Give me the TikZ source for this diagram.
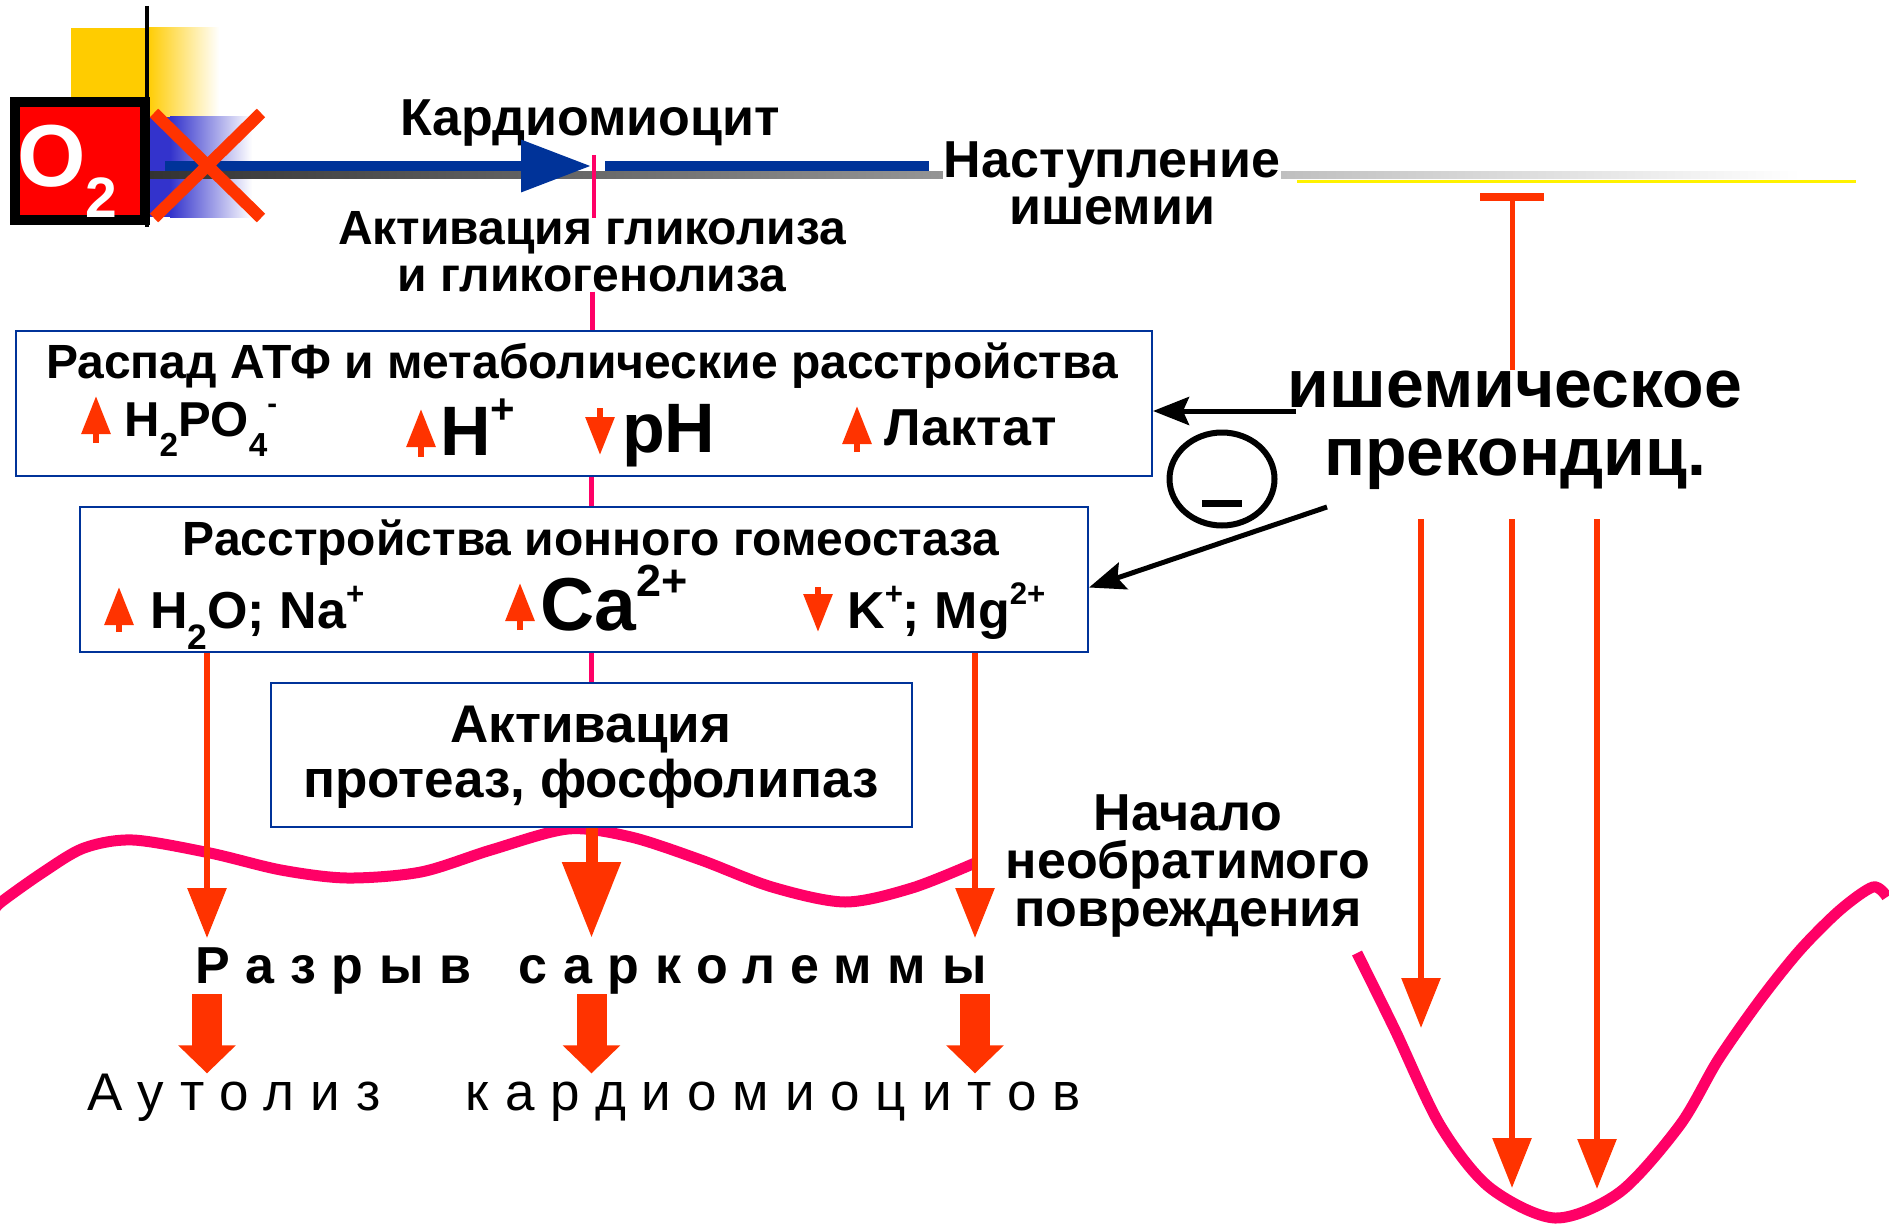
\documentclass[tikz,border=0pt]{standalone}
\usepackage{fontspec}
\setmainfont{Liberation Sans}
\newfontfamily\spaced[LetterSpace=30]{Liberation Sans}
\usetikzlibrary{arrows.meta, positioning, shapes.geometric}
\definecolor{rust}{HTML}{FF3300}
\definecolor{rose}{HTML}{FF0066}
\definecolor{navy}{HTML}{003399}
\definecolor{gold}{HTML}{FFCC00}
\definecolor{indigo}{HTML}{3333CC}
\newcommand{\fsz}[1]{\fontsize{#1}{#1}\selectfont}
\newcommand{\hi}[1]{\raisebox{0.45em}{\fontsize{0.6em}{0.6em}\selectfont #1}}
\newcommand{\lo}[1]{\raisebox{-0.42em}{\fontsize{0.68em}{0.68em}\selectfont #1}}
\tikzstyle{every node}=[inner sep=0pt, font=\bfseries\fsz{52}]
\tikzstyle{block}=[draw=navy, line width=2pt, fill=white, rectangle]
\tikzstyle{link}=[draw=rose, line width=5pt]
\tikzstyle{hit}=[draw=rust, line width=6pt, -{Triangle[width=38pt,length=50pt]}]
\tikzstyle{bighit}=[draw=rust, line width=12pt, -{Triangle[width=56pt,length=76pt]}]
\tikzstyle{ion}=[draw=rust, line width=6pt, -{Triangle[width=28pt,length=38pt]}]
\tikzstyle{fat}=[draw=rust, line width=30pt, -{Triangle[width=56pt,length=28pt]}]
\tikzstyle{push}=[draw=black, line width=5pt, -{Stealth[width=28pt,length=36pt,inset=6pt]}]
\tikzstyle{membrane}=[draw=rose, line width=11pt]

\begin{document}
\begin{tikzpicture}[x=1pt, y=-1pt, node distance=47pt, >=latex]
    \useasboundingbox (0,0) rectangle (1889,1225);
    % corner squares
    \fill[gold] (71,28) rectangle (147,117);
    \shade[left color=gold, right color=white] (147,28) rectangle (219,117);
    \fill[indigo] (150,117) rectangle (170,217);
    \shade[left color=indigo, right color=white] (170,117) rectangle (252,217);
    \draw[line width=4pt] (147,6) -- (147,227);
    % time axis
    \shade[left color=black!80, right color=white] (150,172) rectangle (1800,179);
    \draw[yellow, line width=3pt] (1297,182) -- (1856,182);
    % sarcolemma
    \draw[membrane] plot[smooth] coordinates {(-6,912) (0,903) (42,873) (84,848) (133,840) (210,853) (281,870) (347,878) (421,872) (491,850) (568,829) (631,837) (701,860) (772,887) (845,902) (912,888) (975,863)};
    \draw[membrane] plot[smooth] coordinates {(1357,953) (1395,1030) (1440,1125) (1489,1187) (1555,1218) (1620,1192) (1680,1125) (1718,1060) (1760,1000) (1800,950) (1840,910) (1873,887) (1887,897)};

    \node[draw=black, line width=10pt, fill=red, minimum width=130pt, minimum height=118pt] (o2box) at (80,161) {};
    \node[anchor=base west, text=white, font=\bfseries\fsz{88}] (o2) at (17,187) {O\raisebox{-30pt}{\fsz{57}2}};
    \coordinate (cut) at (594,166);
    \node[anchor=base] (cardio) at (590,136) {Кардиомиоцит};
    \node[anchor=base, fill=white, inner sep=1pt] (onset) at (1112,178) {Наступление};
    \node[anchor=base] (onset2) at ([yshift=-46pt]onset.base) {ишемии};
    \node[anchor=base, font=\bfseries\fsz{48}] (glyc) at (592,244) {Активация гликолиза};
    \node[anchor=base, font=\bfseries\fsz{48}] (glyc2) at ([yshift=-47pt]glyc.base) {и гликогенолиза};

    \node[block, minimum width=1136pt, minimum height=145pt] (box1) at (584,403.5) {};
    \node[anchor=base, font=\bfseries\fsz{48}] (atp) at (582,378) {Распад АТФ и метаболические расстройства};
    \node[anchor=base west, font=\bfseries\fsz{49}] (phos) at (124,436) {H\lo{2}PO\lo{4}\hi{-}};
    \node[anchor=base west, font=\bfseries\fsz{70}] (hplus) at (440,455) {H\hi{+}};
    \node[anchor=base west, font=\bfseries\fsz{70}] (ph) at (622,452) {pH};
    \node[anchor=base west] (lactate) at (884,445) {Лактат};

    \node[block, minimum width=1008pt, minimum height=145pt] (box2) at (584,579.5) {};
    \node[anchor=base, font=\bfseries\fsz{48}] (ions) at (591,555) {Расстройства ионного гомеостаза};
    \node[anchor=base west] (water) at (150,628) {H\lo{2}O; Na\hi{+}};
    \node[anchor=base west, font=\bfseries\fsz{75}] (calcium) at (540,630) {Ca\hi{2+}};
    \node[anchor=base west] (potassium) at (847,628) {K\hi{+}; Mg\hi{2+}};

    \node[block, minimum width=641pt, minimum height=144pt] (box3) at (591.5,755) {};
    \node[anchor=base, font=\bfseries\fsz{53}] (enz) at (591,742) {Активация};
    \node[anchor=base, font=\bfseries\fsz{53}] (enz2) at ([yshift=-55pt]enz.base) {протеаз, фосфолипаз};

    \node[anchor=base, font=\spaced\bfseries\fsz{52}] (razryv) at (591,983) {Разрыв\hspace{17pt} сарколеммы};
    \node[anchor=base, font=\spaced\fsz{53}] (autoliz) at (584,1110) {Аутолиз\hspace{54pt} кардиомиоцитов};

    \node[anchor=base, font=\bfseries\fsz{68}] (isch) at (1515,407) {ишемическое};
    \node[anchor=base, font=\bfseries\fsz{68}] (precond) at ([yshift=-68pt]isch.base) {прекондиц.};
    \node[draw, ellipse, line width=6pt, minimum width=105pt, minimum height=93pt] (minus) at (1222,479) {};
    \fill ([xshift=-20pt,yshift=-21pt]minus.center) rectangle ++(40,7);

    \node[anchor=base] (death) at (1188,830) {Начало};
    \node[anchor=base] (death2) at ([yshift=-48pt]death.base) {необратимого};
    \node[anchor=base] (death3) at ([yshift=-48pt]death2.base) {повреждения};

    \coordinate (tipL) at (207,938);
    \coordinate (tipR) at (975,938);
    \coordinate (d1) at (1421,1028);
    \coordinate (d2) at (1512,1188);
    \coordinate (d3) at (1597,1189);
    \coordinate (stop) at (1512,193);
    \coordinate (a1) at (1296,411);
    \coordinate (a2) at (1327,507);

    % ions up / down
    \draw[ion] (phos.base west) ++(-28,7) -- ++(0,-47);
    \draw[ion] (hplus.base west) ++(-19,2) -- ++(0,-48);
    \draw[ion] (ph.base west) ++(-22,-44) -- ++(0,47);
    \draw[ion] (lactate.base west) ++(-27,7) -- ++(0,-46);
    \draw[ion] (water.base west) ++(-31,4) -- ++(0,-45);
    \draw[ion] (calcium.base west) ++(-20,0) -- ++(0,-47);
    \draw[ion] (potassium.base west) ++(-29,-41) -- ++(0,45);

    \draw[navy, line width=10pt, -{Triangle[width=50pt,length=70pt]}] ([xshift=15pt]o2box.east |- cut) -- ([xshift=-3pt]cut);
    \draw[navy, line width=10pt] ([xshift=11pt]cut) -- ([xshift=-14pt]onset.west |- cut);
    \draw[rose, line width=4pt] ([yshift=11pt]cut) -- ([yshift=-52pt]cut);
    \draw[rust, line width=12pt] (154,113) -- (261,218) (154,218) -- (261,113);

    \draw[link] (glyc2.south) -- (box1.north -| glyc2.south);
    \draw[link] (box1.south -| box3.north) -- (box2.north -| box3.north);
    \draw[link] (box2.south -| box3.north) -- (box3.north);
    \draw[hit] (box2.south -| tipL) -- (tipL);
    \draw[hit] (box2.south -| tipR) -- (tipR);
    \draw[bighit] (box3.south) -- (box3.south |- tipL);
    \draw[fat] (razryv.south -| tipL) -- (autoliz.north -| tipL);
    \draw[fat] (razryv.south -| box3.south) -- (autoliz.north -| box3.south);
    \draw[fat] (razryv.south -| tipR) -- (autoliz.north -| tipR);

    \draw[push] (a1) -- (a1 -| box1.east);
    \draw[push] (a2) -- ([yshift=-8pt]box2.east);
    \draw[rust, line width=5pt, -{Bar[width=64pt,line width=8pt]}] (isch.north -| stop) -- (stop);
    \draw[hit, shorten <=30pt] (precond.south -| d1) -- (d1);
    \draw[hit, shorten <=30pt] (precond.south -| d2) -- (d2);
    \draw[hit, shorten <=30pt] (precond.south -| d3) -- (d3);
\end{tikzpicture}
\end{document}
